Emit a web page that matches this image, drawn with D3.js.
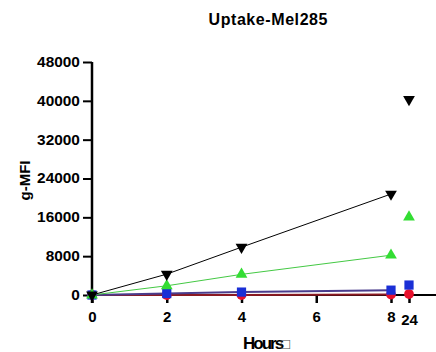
<!DOCTYPE html>
<html>
<head>
<meta charset="utf-8">
<script src="https://cdn.jsdelivr.net/npm/d3@7"></script>
<style>
  body { margin: 0; background: #fff; }
  text { font-family: Arial, "Liberation Sans", sans-serif; font-weight: bold; }
</style>
</head>
<body>
<svg id="chart" width="436" height="352"></svg>
<script>
const hours = [0, 2, 4, 8, 24];
const xTicks = [0, 2, 4, 6, 8, 24];
const yTicks = [0, 8000, 16000, 24000, 32000, 40000, 48000];

const blackVals = [0, 4300, 9850, 20800, 40300];
const greenVals = [0, 1900, 4250, 8200, 16050];
const blueVals = [0, 300, 600, 1000, 2050];
const redVals = [0, 0, 0, 80, 200];

const series = [
  { name: 'red', vals: redVals, line: '#8b1a22', fill: '#e8112d', shape: d3.symbolCircle, size: 75 },
  { name: 'blue', vals: blueVals, line: '#4a3c8c', fill: '#1a2fd6', shape: d3.symbolSquare, size: 85 },
  { name: 'green', vals: greenVals, line: '#44c944', fill: '#33dd33', shape: d3.symbolTriangle, size: 60, rot: 0 },
  { name: 'black', vals: blackVals, line: '#000', fill: '#000', shape: d3.symbolTriangle, size: 60, rot: 180 }
];

const svg = d3.select('#chart');

// 0-8 is linear, 24 sits in a short segment after the break
const x = d3.scaleLinear().domain([0, 8, 24]).range([92, 391, 409]);
const y = d3.scaleLinear().domain([0, 48000]).range([295, 62]);

svg.append('text')
  .attr('x', 268).attr('y', 25)
  .attr('text-anchor', 'middle')
  .attr('font-size', 16)
  .attr('textLength', 119)
  .text('Uptake-Mel285');

// y axis
const yAxis = svg.append('g')
  .attr('transform', 'translate(92,0)')
  .call(d3.axisLeft(y).tickValues(yTicks).tickFormat(d3.format('d')).tickSize(9).tickPadding(2));
yAxis.select('.domain').attr('stroke-width', 2.5).attr('d', `M0,${y(48000)}V${y(0) + 8}`);
yAxis.selectAll('.tick line').attr('stroke-width', 2);
yAxis.selectAll('.tick text').attr('font-size', 14).attr('fill', '#000')
  .attr('transform', 'scale(1.1,1)');

// x axis
const xAxis = svg.append('g')
  .attr('transform', `translate(0,${y(0)})`)
  .call(d3.axisBottom(x).tickValues(xTicks).tickFormat(d => d).tickSize(8).tickPadding(8));
xAxis.select('.domain').attr('stroke-width', 2).attr('d', `M${x(0)},0H436`);
xAxis.selectAll('.tick line').attr('stroke-width', 2.5);
xAxis.selectAll('.tick text').attr('font-size', 15).attr('fill', '#000')
  .attr('dy', d => d === 24 ? '0.95em' : '0.71em');

svg.append('text')
  .attr('transform', `translate(30,${y(24000) + 2}) rotate(-90)`)
  .attr('text-anchor', 'middle')
  .attr('font-size', 15)
  .text('g-MFI');

svg.append('text')
  .attr('x', 243).attr('y', 349)
  .attr('font-size', 17)
  .attr('letter-spacing', -2)
  .text('Hours');
svg.append('text')
  .attr('x', 281).attr('y', 349)
  .attr('font-size', 15)
  .attr('font-weight', 'normal')
  .attr('fill', '#444')
  .text('\u25A1');

const line = d3.line().x(d => x(d[0])).y(d => y(d[1]));

series.forEach(s => {
  const pts = hours.map((h, i) => [h, s.vals[i]]);
  svg.append('path')
    .datum(pts.filter(p => p[0] <= 8))
    .attr('fill', 'none')
    .attr('stroke', s.line)
    .attr('stroke-width', s.name === 'blue' || s.name === 'red' ? 2 : 1)
    .attr('d', line);
});

series.forEach(s => {
  const pts = hours.map((h, i) => [h, s.vals[i]]);
  svg.append('g').selectAll('path')
    .data(pts)
    .join('path')
    .attr('d', d3.symbol().type(s.shape).size(s.size))
    .attr('fill', s.fill)
    .attr('transform', d => `translate(${x(d[0])},${y(d[1])}) rotate(${s.rot || 0})`);
});
</script>
</body>
</html>
